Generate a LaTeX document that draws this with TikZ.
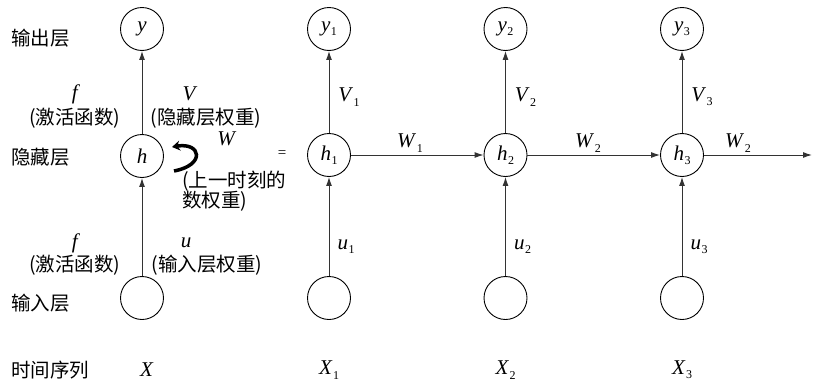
\documentclass[tikz,border=0pt]{standalone}
\usepackage{fontspec}
\setmainfont{Liberation Serif}
\newfontfamily\cjk{Noto Sans CJK SC}
\usetikzlibrary{arrows.meta}
\newcommand\vsub[2]{\textit{#1}\kern0.5pt\raisebox{-0.45ex}{\fontsize{12}{13}\selectfont #2}}
\tikzset{
  neuron/.style={circle,draw,line width=0.9pt,minimum size=43pt,inner sep=0pt,font=\fontsize{21}{22}\selectfont},
  conn/.style={draw=black!80,line width=1pt,-{Latex[length=9pt,width=6pt]}},
  cn/.style={font=\cjk\fontsize{19.5}{22}\selectfont,inner sep=0pt},
  lt/.style={font=\fontsize{21}{22}\selectfont,inner sep=0pt},
}
\begin{document}
\begin{tikzpicture}[x=1pt,y=-1pt]
\useasboundingbox (0,0) rectangle (814,383);
% left folded network
\node[neuron] (y) at (142,29) {\textit{y}};
\node[neuron] (h) at (142,156) {\textit{h}};
\node[neuron] (x) at (142,298) {};
\draw[conn] (x) -- (h);
\draw[conn] (h) -- (y);
% row labels
\node[cn,anchor=west] (lo) at (11,38) {输出层};
\node[cn,anchor=west] (lh) at (11,157) {隐藏层};
\node[cn,anchor=west] (li) at (11,303) {输入层};
\node[cn,anchor=west] (lt) at (11,370) {时间序列};
\node[lt] (X) at (147,370) {\textit{X}};
% annotations
\node[lt] (f1) at (76,94) {\textit{f}};
\node[cn] (a1) at (75,118) {(激活函数)};
\node[lt] (V) at (190,94) {\textit{V}};
\node[cn] (b1) at (206,118) {(隐藏层权重)};
\node[lt] (W) at (227,139) {\textit{W}};
\node[cn,anchor=west] (c1) at (182,181) {(上一时刻的};
\node[cn,anchor=west] (c2) at (182,201) {数权重)};
\node[lt] (f2) at (76,243) {\textit{f}};
\node[cn] (a2) at (75,265) {(激活函数)};
\node[lt] (u) at (186,243) {\textit{u}};
\node[cn] (b2) at (207,265) {(输入层权重)};
\node[lt] (eq) at (282,154) {\fontsize{15}{16}\selectfont =};
% recurrent hook arrow
\coordinate (hs) at (174,171);
\coordinate (he) at (172,147);
\draw[line width=3.5pt,-{Stealth[length=8pt,width=10pt]}] (hs) .. controls (206,165) and (201,142) .. (he);
% unfolded network
\foreach \i/\xx in {1/329,2/505.5,3/682}{
  \node[neuron] (y\i) at (\xx,29) {\vsub{y}{\i}};
  \node[neuron] (h\i) at (\xx,155) {\vsub{h}{\i}};
  \node[neuron] (x\i) at (\xx,298) {};
  \draw[conn] (x\i) -- (h\i);
  \draw[conn] (h\i) -- (y\i);
  \node[lt] (V\i) at (\xx+20,97) {\vsub{V}{\i}};
  \node[lt] (u\i) at (\xx+17,247) {\vsub{u}{\i}};
  \node[lt] (X\i) at (\xx,370) {\vsub{X}{\i}};
}
\coordinate (end) at (812,155);
\draw[conn] (h1) -- (h2);
\draw[conn] (h2) -- (h3);
\draw[conn] (h3) -- (end);
\node[lt] (W1) at (410,143) {\vsub{W}{1}};
\node[lt] (W2) at (588,143) {\vsub{W}{2}};
\node[lt] (W3) at (738,143) {\vsub{W}{2}};
\end{tikzpicture}
\end{document}
